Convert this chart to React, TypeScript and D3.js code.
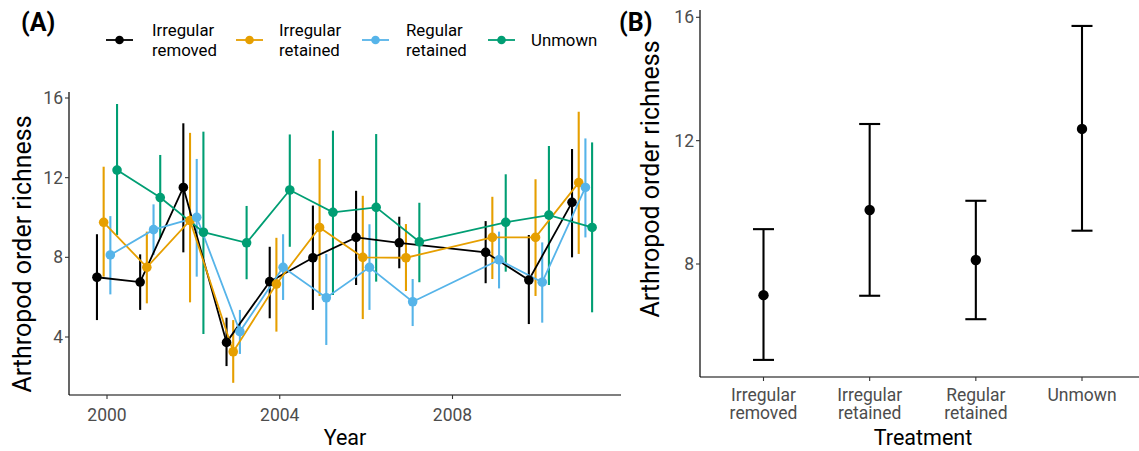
import React from 'react';
import * as d3 from 'd3';

const years = [2000, 2001, 2002, 2003, 2004, 2005, 2006, 2007, 2009, 2010, 2011];
const seriesNames = ['Irregular removed', 'Irregular retained', 'Regular retained', 'Unmown'];
const seriesColors = ['#000000', '#E69F00', '#56B4E9', '#009E73'];

const removedMean = [7.0, 6.76, 11.51, 3.73, 6.78, 7.98, 9.0, 8.73, 8.25, 6.86, 10.76];
const removedLo = [4.85, 5.36, 8.25, 2.54, 4.94, 5.36, 6.61, 7.45, 6.7, 4.65, 8.0];
const removedHi = [9.16, 8.15, 14.73, 4.97, 8.53, 10.6, 11.34, 10.04, 9.82, 9.12, 13.44];

const irrRetMean = [9.76, 7.5, 9.85, 3.26, 6.66, 9.5, 8.0, 7.98, 9.0, 9.0, 11.75];
const irrRetLo = [7.03, 5.69, 5.74, 1.7, 4.27, 6.06, 4.9, 6.31, 6.91, 6.06, 8.17];
const irrRetHi = [12.55, 9.29, 14.25, 4.85, 8.98, 12.94, 11.09, 9.67, 11.04, 11.92, 15.31];

const regRetMean = [8.12, 9.39, 10.01, 4.27, 7.5, 5.97, 7.5, 5.77, 7.87, 6.75, 11.51];
const regRetLo = [6.14, 8.12, 7.03, 3.15, 5.86, 3.6, 5.36, 4.55, 6.44, 4.72, 9.0];
const regRetHi = [10.07, 10.66, 12.94, 5.36, 9.16, 8.17, 9.66, 6.91, 9.29, 8.75, 13.97];

const unmownMean = [12.38, 11.0, 9.26, 8.73, 11.38, 10.26, 10.51, 8.78, 9.76, 10.12, 9.5];
const unmownLo = [9.12, 8.98, 4.15, 6.9, 8.53, 6.11, 6.78, 6.75, 7.28, 6.61, 5.24];
const unmownHi = [15.7, 13.14, 14.31, 10.58, 14.17, 14.36, 14.19, 10.74, 12.17, 13.59, 13.77];

const yearTicks = [2000, 2004, 2008];
const richTicksA = [4, 8, 12, 16];

const treatments = [['Irregular', 'removed'], ['Irregular', 'retained'], ['Regular', 'retained'], ['Unmown']];
const overallMean = [6.99, 9.75, 8.13, 12.38];
const overallLo = [4.89, 6.97, 6.21, 9.08];
const overallHi = [9.13, 12.54, 10.05, 15.72];
const richTicksB = [8, 12, 16];

const FONT = 'Roboto, "Noto Sans", sans-serif';
const TICK_COL = '#4D4D4D';
const TICK_FS = 17.5;

export default function App() {
  // panel A scales
  const xA = d3.scaleLinear().domain([2000, 2008]).range([107, 452.5]);
  const yA = d3.scaleLinear().domain([4, 16]).range([337, 98]);
  const axisA = { left: 69, right: 621, top: 92, bottom: 395 };
  const dodge = 0.155;

  const series = [
    { mean: removedMean, lo: removedLo, hi: removedHi },
    { mean: irrRetMean, lo: irrRetLo, hi: irrRetHi },
    { mean: regRetMean, lo: regRetLo, hi: regRetHi },
    { mean: unmownMean, lo: unmownLo, hi: unmownHi },
  ];
  const xd = (yr: number, s: number) => xA(yr + (s - 1.5) * dodge);
  const line = d3.line<number>();

  // panel B scales
  const xB = d3.scalePoint<number>().domain([0, 1, 2, 3]).range([763.5, 1082]);
  const yB = d3.scaleLinear().domain([8, 16]).range([264, 17.3]);
  const axisB = { left: 700, right: 1139, top: 10, bottom: 377 };

  const legendX = [106, 236, 362, 488];
  const legendLabelX = [152, 279, 406, 531];

  return (
    <svg width={1139} height={451} style={{ position: 'absolute', left: 0, top: 0, background: '#fff' }} fontFamily={FONT}>
      <rect width={1139} height={451} fill="#fff" />
      {/* panel tags */}
      <text x={21} y={31} fontSize={25} fontWeight="bold">(A)</text>
      <text x={619} y={31} fontSize={25} fontWeight="bold">(B)</text>

      {/* legend */}
      {seriesNames.map((name, i) => {
        const parts = name === 'Unmown' ? ['Unmown'] : name.split(' ');
        return (
          <g key={name}>
            <line x1={legendX[i]} x2={legendX[i] + 27} y1={40} y2={40} stroke={seriesColors[i]} strokeWidth={1.8} />
            <circle cx={legendX[i] + 13.5} cy={40} r={4.3} fill={seriesColors[i]} />
            {parts.length === 1 ? (
              <text x={legendLabelX[i]} y={46} fontSize={16.8} fill="#000">{parts[0]}</text>
            ) : (
              <text fontSize={16.8} fill="#000">
                <tspan x={legendLabelX[i]} y={36}>{parts[0]}</tspan>
                <tspan x={legendLabelX[i]} y={56}>{parts[1]}</tspan>
              </text>
            )}
          </g>
        );
      })}

      {/* panel A axes */}
      <line x1={axisA.left} x2={axisA.left} y1={axisA.top} y2={axisA.bottom} stroke="#000" strokeWidth={1.2} />
      <line x1={axisA.left} x2={axisA.right} y1={axisA.bottom} y2={axisA.bottom} stroke="#000" strokeWidth={1.2} />
      {richTicksA.map((t) => (
        <g key={t}>
          <line x1={axisA.left - 4} x2={axisA.left} y1={yA(t)} y2={yA(t)} stroke="#333" strokeWidth={1.1} />
          <text x={axisA.left - 6} y={yA(t) + 6} fontSize={TICK_FS} fill={TICK_COL} textAnchor="end">{t}</text>
        </g>
      ))}
      {yearTicks.map((t) => (
        <g key={t}>
          <line x1={xA(t)} x2={xA(t)} y1={axisA.bottom} y2={axisA.bottom + 4} stroke="#333" strokeWidth={1.1} />
          <text x={xA(t)} y={421} fontSize={TICK_FS} fill={TICK_COL} textAnchor="middle">{t}</text>
        </g>
      ))}
      <text x={(axisA.left + axisA.right) / 2} y={445} fontSize={21.5} textAnchor="middle">Year</text>
      <text transform={`translate(31,254) rotate(-90)`} fontSize={25} textAnchor="middle">Arthropod order richness</text>

      {/* panel A error bars */}
      {series.map((s, si) => (
        <g key={'eb' + si} stroke={seriesColors[si]} strokeWidth={2.1}>
          {years.map((yr, j) => (
            <line key={yr} x1={xd(yr, si)} x2={xd(yr, si)} y1={yA(s.lo[j])} y2={yA(s.hi[j])} />
          ))}
        </g>
      ))}
      {/* panel A lines */}
      {series.map((s, si) => (
        <path key={'ln' + si} d={line(years.map((yr, j) => [xd(yr, si), yA(s.mean[j])]) as any) || ''} fill="none" stroke={seriesColors[si]} strokeWidth={1.8} />
      ))}
      {/* panel A points */}
      {series.map((s, si) => (
        <g key={'pt' + si} fill={seriesColors[si]}>
          {years.map((yr, j) => (
            <circle key={yr} cx={xd(yr, si)} cy={yA(s.mean[j])} r={4.8} />
          ))}
        </g>
      ))}

      {/* panel B axes */}
      <line x1={axisB.left} x2={axisB.left} y1={axisB.top} y2={axisB.bottom} stroke="#000" strokeWidth={1.2} />
      <line x1={axisB.left} x2={axisB.right} y1={axisB.bottom} y2={axisB.bottom} stroke="#000" strokeWidth={1.2} />
      {richTicksB.map((t) => (
        <g key={t}>
          <line x1={axisB.left - 4} x2={axisB.left} y1={yB(t)} y2={yB(t)} stroke="#333" strokeWidth={1.1} />
          <text x={axisB.left - 6} y={yB(t) + 6} fontSize={TICK_FS} fill={TICK_COL} textAnchor="end">{t}</text>
        </g>
      ))}
      {treatments.map((lab, i) => (
        <g key={i}>
          <line x1={xB(i)!} x2={xB(i)!} y1={axisB.bottom} y2={axisB.bottom + 4} stroke="#333" strokeWidth={1.1} />
          <text fontSize={TICK_FS} fill={TICK_COL} textAnchor="middle">
            {lab.map((l, k) => (
              <tspan key={k} x={xB(i)!} y={401 + k * 18}>{l}</tspan>
            ))}
          </text>
        </g>
      ))}
      <text x={923} y={445} fontSize={21.5} textAnchor="middle">Treatment</text>
      <text transform={`translate(659,179) rotate(-90)`} fontSize={25} textAnchor="middle">Arthropod order richness</text>

      {overallMean.map((m, i) => (
        <g key={'b' + i} stroke="#000" strokeWidth={2.1}>
          <line x1={xB(i)!} x2={xB(i)!} y1={yB(overallLo[i])} y2={yB(overallHi[i])} />
          <line x1={xB(i)! - 10.5} x2={xB(i)! + 10.5} y1={yB(overallLo[i])} y2={yB(overallLo[i])} />
          <line x1={xB(i)! - 10.5} x2={xB(i)! + 10.5} y1={yB(overallHi[i])} y2={yB(overallHi[i])} />
          <circle cx={xB(i)!} cy={yB(m)} r={5.2} fill="#000" stroke="none" />
        </g>
      ))}
    </svg>
  );
}
